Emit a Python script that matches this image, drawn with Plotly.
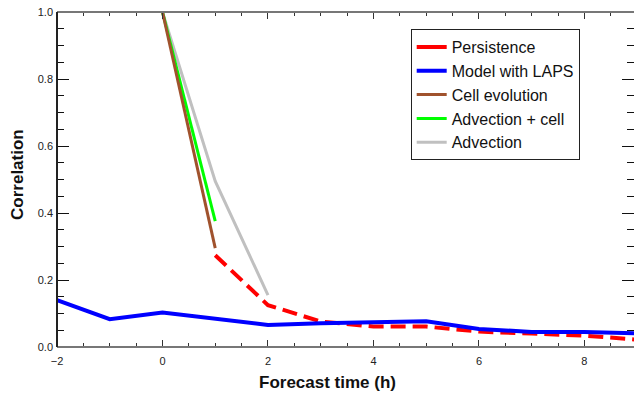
import plotly.graph_objects as go

# Forecast hours
hours_model = [-2, -1, 0, 1, 2, 3, 4, 5, 6, 7, 8, 9]
model_laps = [0.140, 0.083, 0.103, 0.084, 0.066, 0.071, 0.073, 0.077, 0.054, 0.045, 0.045, 0.041]

hours_persist = [1, 2, 3, 4, 5, 6, 7, 8, 9]
persistence = [0.274, 0.125, 0.076, 0.061, 0.061, 0.046, 0.040, 0.034, 0.022]

hours_cell = [0, 1]
cell_evolution = [1.0, 0.295]

hours_adv_cell = [0, 1]
advection_cell = [1.0, 0.376]

hours_adv = [0, 1, 2]
advection = [1.0, 0.495, 0.155]

x_ticks = [-2, 0, 2, 4, 6, 8]
x_ticktext = ["\u22122", "0", "2", "4", "6", "8"]
y_ticks = [0.0, 0.2, 0.4, 0.6, 0.8, 1.0]
y_ticktext = ["0.0", "0.2", "0.4", "0.6", "0.8", "1.0"]

RED = "#ff0000"
BLUE = "#0000ff"
BROWN = "#a0522d"
GREEN = "#00ff00"
GRAY = "#c0c0c0"
FONT = "Liberation Sans, Arial, sans-serif"

fig = go.Figure()

fig.add_trace(go.Scatter(x=hours_adv, y=advection, mode="lines", name="Advection",
                         line=dict(color=GRAY, width=3), legendrank=5))
fig.add_trace(go.Scatter(x=hours_adv_cell, y=advection_cell, mode="lines", name="Advection + cell",
                         line=dict(color=GREEN, width=3), legendrank=4))
fig.add_trace(go.Scatter(x=hours_cell, y=cell_evolution, mode="lines", name="Cell evolution",
                         line=dict(color=BROWN, width=3), legendrank=3))
fig.add_trace(go.Scatter(x=hours_persist, y=persistence, mode="lines", name="Persistence",
                         line=dict(color=RED, width=4, dash="15px,7px"), showlegend=False))
fig.add_trace(go.Scatter(x=hours_model, y=model_laps, mode="lines", name="Model with LAPS",
                         line=dict(color=BLUE, width=4), legendrank=2))
# legend entry for persistence (solid sample as in the original legend)
fig.add_trace(go.Scatter(x=[None], y=[None], mode="lines", name="Persistence",
                         line=dict(color=RED, width=4), legendrank=1))

axis_common = dict(
    showline=False, mirror="ticks", ticks="inside", zeroline=False, showgrid=False,
    tickfont=dict(family=FONT, size=11, color="#222"),
)

fig.update_xaxes(
    range=[-2, 8.94], tickmode="array", tickvals=x_ticks, ticktext=x_ticktext,
    ticklen=7, tickwidth=1, tickcolor="#333", ticklabelstandoff=6,
    minor=dict(dtick=0.5, tick0=-2, ticks="inside", ticklen=4, tickcolor="#333", tickwidth=1),
    **axis_common,
)
fig.update_yaxes(
    range=[0, 1.0], tickmode="array", tickvals=y_ticks, ticktext=y_ticktext,
    ticklen=12, tickwidth=1, tickcolor="#111", ticklabelstandoff=3,
    minor=dict(dtick=0.05, tick0=0, ticks="inside", ticklen=7, tickcolor="#111", tickwidth=1),
    **axis_common,
)

frame = dict(type="line", xref="paper", yref="paper", line=dict(color="#777", width=2), layer="above")
fig.update_layout(
    width=634, height=395,
    margin=dict(l=57, r=0, t=12, b=48),
    paper_bgcolor="white", plot_bgcolor="white",
    shapes=[
        dict(frame, x0=0, x1=1, y0=0, y1=0),
        dict(frame, x0=0, x1=1, y0=1, y1=1),
        dict(frame, x0=0, x1=0, y0=0, y1=1, line=dict(color="#222", width=2)),
    ],
    annotations=[
        dict(text="<b>Forecast time (h)</b>", xref="paper", yref="paper", x=0.468, y=-0.107,
             xanchor="center", yanchor="middle", showarrow=False,
             font=dict(family=FONT, size=17, color="#111")),
        dict(text="<b>Correlation</b>", xref="paper", yref="paper", x=-0.0685, y=0.515,
             xanchor="center", yanchor="middle", showarrow=False, textangle=-90,
             font=dict(family=FONT, size=17, color="#111")),
    ],
    legend=dict(
        x=0.613, y=0.949, xanchor="left", yanchor="top",
        bgcolor="white", bordercolor="#222", borderwidth=1,
        font=dict(family=FONT, size=16, color="#111"),
        tracegroupgap=0,
    ),
    showlegend=True,
)

fig.write_html("out.html")
